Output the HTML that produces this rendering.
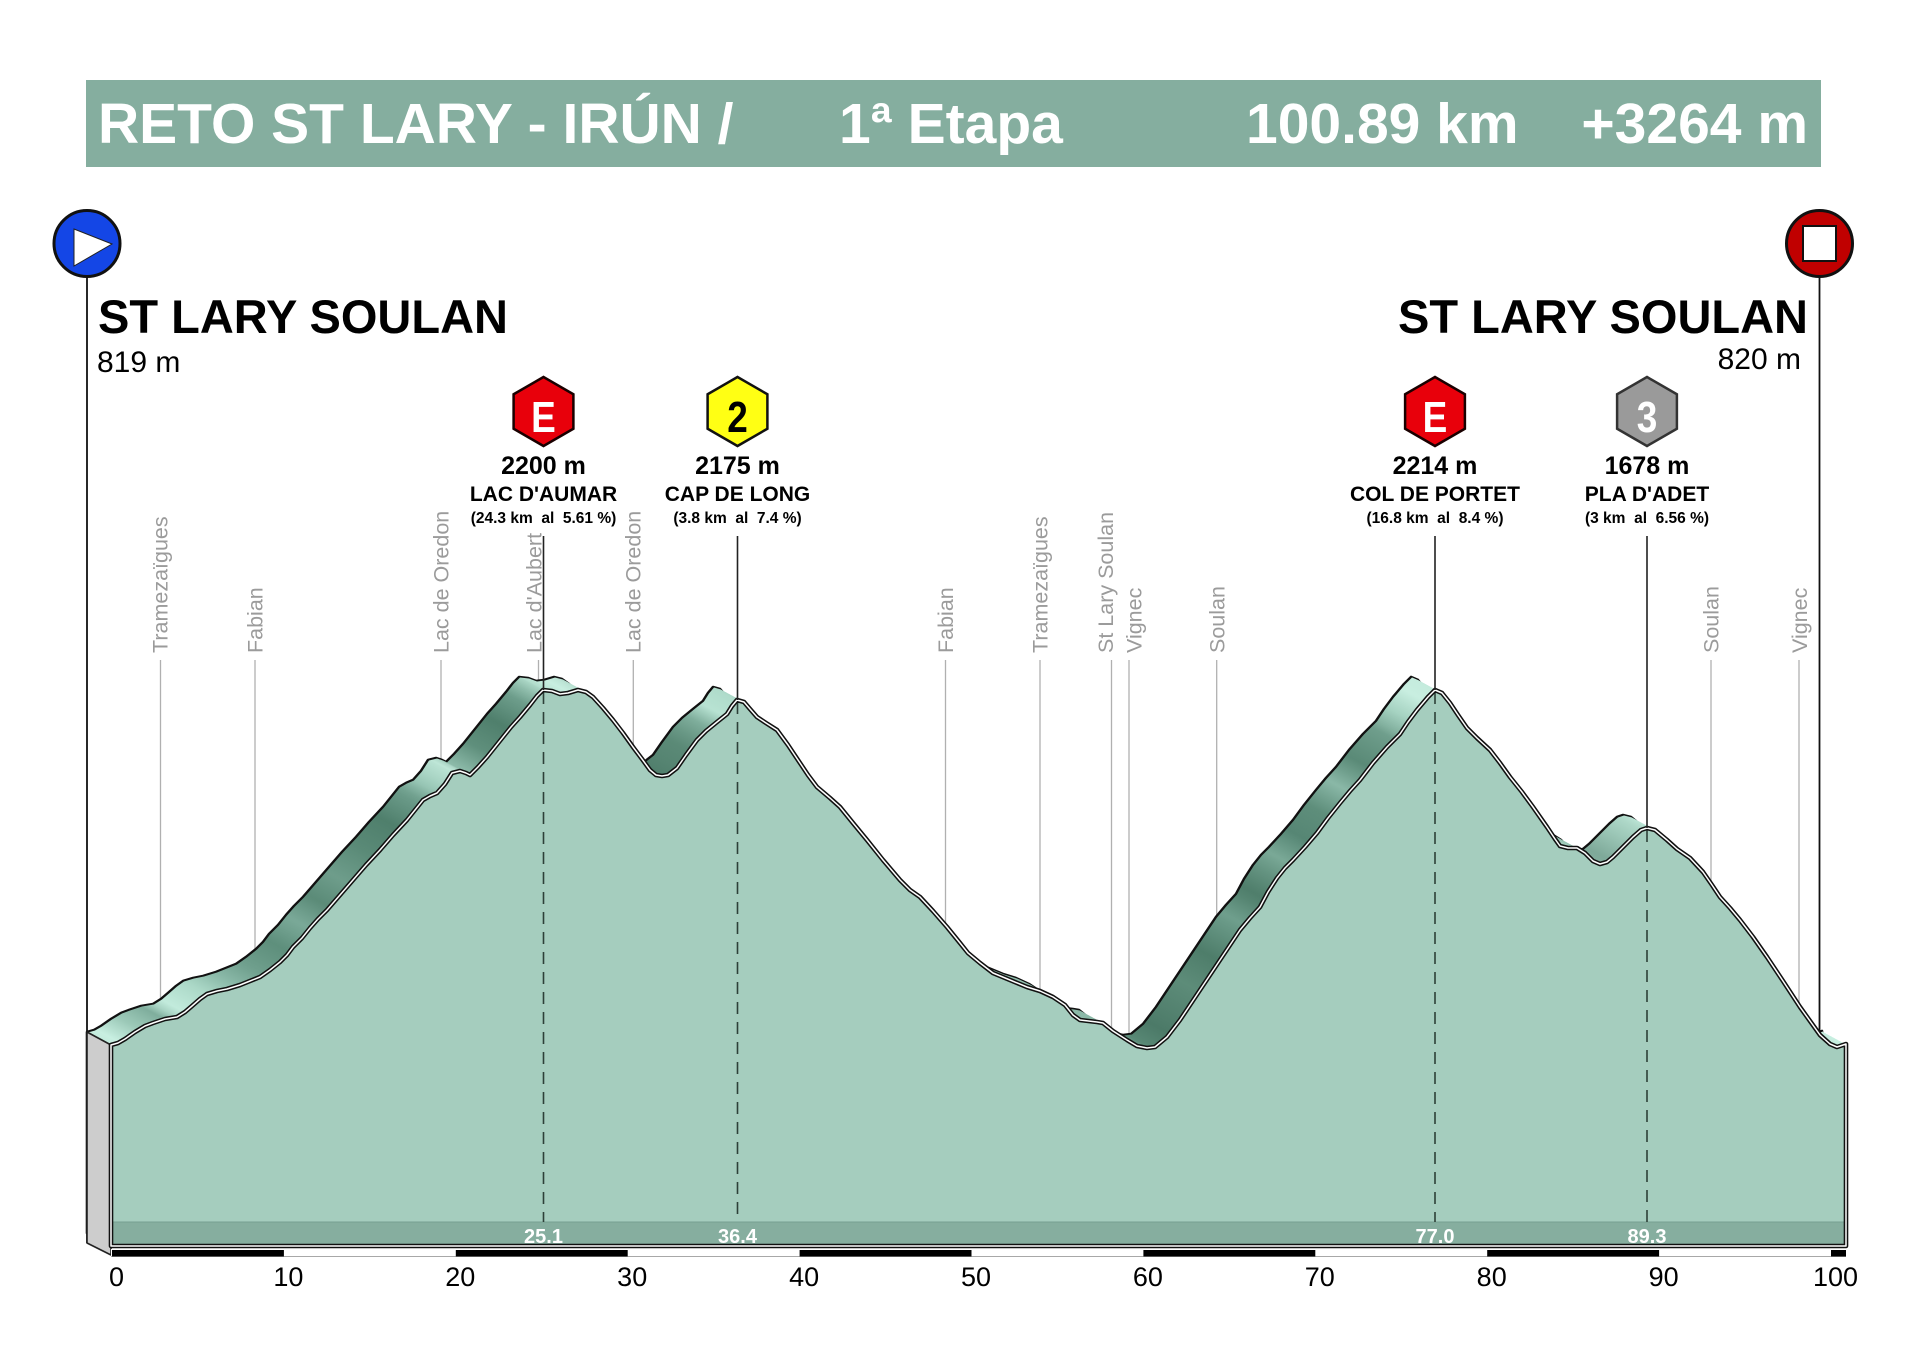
<!DOCTYPE html>
<html>
<head>
<meta charset="utf-8">
<style>
  html,body{margin:0;padding:0;background:#ffffff;}
  svg{display:block;}
  text{font-family:"Liberation Sans", Arial, sans-serif;}
  .pre{white-space:pre;}
</style>
</head>
<body>
<svg width="1920" height="1357" viewBox="0 0 1920 1357" xmlns="http://www.w3.org/2000/svg">
  <defs>
    <path id="prof" d="M111,1045 L118,1043 L125,1039 L135,1032 L145,1026 L153,1023 L165,1019 L177,1017 L185,1012 L192,1006 L200,999 L207,994 L217,991 L227,989 L240,985 L250,981 L260,977 L270,970 L280,962 L287,955 L293,947 L302,938 L310,928 L318,919 L327,910 L340,895 L353,880 L366,865 L380,850 L393,835 L407,820 L415,810 L423,800 L430,796 L437,793 L445,784 L452,773 L460,771 L466,773 L470,775 L478,767 L487,757 L495,747 L503,737 L511,727 L520,717 L530,705 L537,696 L543,690 L552,691 L560,694 L568,693 L578,690 L586,692 L593,697 L603,708 L613,720 L623,733 L633,747 L642,759 L650,770 L656,775 L662,776 L668,775 L677,768 L686,755 L697,740 L706,731 L717,722 L727,714 L732,706 L737,700 L744,702 L750,709 L757,717 L766,723 L777,730 L788,745 L800,763 L808,775 L817,787 L830,798 L840,807 L853,823 L867,840 L883,860 L900,880 L910,890 L920,897 L933,911 L947,927 L960,943 L968,953 L980,963 L993,973 L1010,980 L1027,987 L1040,991 L1053,997 L1065,1005 L1073,1015 L1080,1020 L1097,1022 L1103,1023 L1113,1031 L1127,1040 L1137,1046 L1147,1048 L1155,1047 L1167,1037 L1180,1020 L1190,1005 L1200,990 L1210,975 L1220,960 L1230,945 L1240,930 L1250,918 L1260,907 L1268,892 L1277,878 L1285,868 L1293,860 L1305,847 L1317,833 L1328,818 L1340,803 L1350,791 L1360,780 L1373,763 L1387,747 L1400,734 L1408,722 L1417,710 L1428,697 L1435,690 L1442,693 L1450,703 L1458,715 L1467,728 L1477,738 L1490,750 L1500,763 L1510,777 L1522,792 L1533,807 L1547,827 L1555,839 L1560,846 L1568,848 L1577,848 L1585,853 L1593,861 L1600,864 L1607,862 L1613,857 L1623,847 L1633,837 L1641,830 L1647,828 L1655,830 L1667,840 L1677,849 L1690,858 L1703,872 L1712,885 L1720,897 L1730,908 L1740,920 L1753,937 L1767,957 L1783,981 L1800,1007 L1810,1021 L1820,1035 L1830,1044 L1837,1047 L1846,1044 L1846,1246 L111,1246 Z"/>
    <linearGradient id="rib" gradientUnits="userSpaceOnUse" x1="0" y1="0" x2="1920" y2="0">
      <stop offset="0.0448" stop-color="#b5e0d0"/>
      <stop offset="0.0625" stop-color="#c8efe1"/>
      <stop offset="0.0729" stop-color="#9cc9b8"/>
      <stop offset="0.0859" stop-color="#7fae9d"/>
      <stop offset="0.0964" stop-color="#c2ebdc"/>
      <stop offset="0.1094" stop-color="#a9d6c5"/>
      <stop offset="0.1250" stop-color="#88b7a6"/>
      <stop offset="0.1380" stop-color="#6f9f8d"/>
      <stop offset="0.1510" stop-color="#5e8f7c"/>
      <stop offset="0.1615" stop-color="#7aa998"/>
      <stop offset="0.1719" stop-color="#5b8b78"/>
      <stop offset="0.1823" stop-color="#6e9d8b"/>
      <stop offset="0.1953" stop-color="#5a8a77"/>
      <stop offset="0.2083" stop-color="#4f7f6c"/>
      <stop offset="0.2188" stop-color="#6a9a88"/>
      <stop offset="0.2292" stop-color="#9ccab9"/>
      <stop offset="0.2370" stop-color="#bfe7d8"/>
      <stop offset="0.2448" stop-color="#8fbdac"/>
      <stop offset="0.2552" stop-color="#5f8f7c"/>
      <stop offset="0.2656" stop-color="#4f7f6c"/>
      <stop offset="0.2760" stop-color="#6d9d8b"/>
      <stop offset="0.2839" stop-color="#b0dccb"/>
      <stop offset="0.2969" stop-color="#c8eee0"/>
      <stop offset="0.3125" stop-color="#9fcbba"/>
      <stop offset="0.3333" stop-color="#6a9a88"/>
      <stop offset="0.3438" stop-color="#4e7c6a"/>
      <stop offset="0.3594" stop-color="#5b8a77"/>
      <stop offset="0.3698" stop-color="#7fae9c"/>
      <stop offset="0.3776" stop-color="#b8e3d3"/>
      <stop offset="0.3880" stop-color="#a9d6c5"/>
      <stop offset="0.5781" stop-color="#8bb8a7"/>
      <stop offset="0.5833" stop-color="#c6eee0"/>
      <stop offset="0.5911" stop-color="#8fbdac"/>
      <stop offset="0.5990" stop-color="#5a8a77"/>
      <stop offset="0.6094" stop-color="#4c7a68"/>
      <stop offset="0.6250" stop-color="#5d8c79"/>
      <stop offset="0.6354" stop-color="#4e7d6a"/>
      <stop offset="0.6484" stop-color="#6f9f8d"/>
      <stop offset="0.6589" stop-color="#4f7e6b"/>
      <stop offset="0.6719" stop-color="#7aa997"/>
      <stop offset="0.6823" stop-color="#568674"/>
      <stop offset="0.6927" stop-color="#5e8e7b"/>
      <stop offset="0.7031" stop-color="#8ab8a7"/>
      <stop offset="0.7135" stop-color="#5a8a77"/>
      <stop offset="0.7266" stop-color="#6f9e8c"/>
      <stop offset="0.7344" stop-color="#a5d2c1"/>
      <stop offset="0.7422" stop-color="#c8eee0"/>
      <stop offset="0.8073" stop-color="#9fcbba"/>
      <stop offset="0.8125" stop-color="#c5ecde"/>
      <stop offset="0.8229" stop-color="#8dbaa9"/>
      <stop offset="0.8385" stop-color="#7ea999"/>
      <stop offset="0.8490" stop-color="#9dc8b8"/>
      <stop offset="0.8594" stop-color="#b9e2d3"/>
      <stop offset="0.9375" stop-color="#aad7c6"/>
      <stop offset="0.9615" stop-color="#c8efe1"/>
    </linearGradient>
  </defs>

  <!-- Banner -->
  <rect x="86" y="80" width="1735" height="87" fill="#85ae9f"/>
  <g fill="#ffffff" font-weight="bold" font-size="57">
    <text x="98" y="143">RETO ST LARY - IRÚN /</text>
    <text x="839" y="143">1ª Etapa</text>
    <text x="1246" y="143">100.89 km</text>
    <text x="1808" y="143" text-anchor="end">+3264 m</text>
  </g>

  <!-- Start / finish names -->
  <text x="98" y="333" font-size="47" font-weight="bold" fill="#000">ST LARY SOULAN</text>
  <text x="97" y="372" font-size="30" fill="#000">819 m</text>
  <text x="1808" y="333" font-size="47" font-weight="bold" fill="#000" text-anchor="end">ST LARY SOULAN</text>
  <text x="1801" y="369" font-size="30" fill="#000" text-anchor="end">820 m</text>

  <!-- start / finish vertical lines -->
  <line x1="87" y1="276" x2="87" y2="1243" stroke="#111" stroke-width="1.8"/>
  <line x1="1819.5" y1="276" x2="1819.5" y2="1100" stroke="#111" stroke-width="1.8"/>

  <!-- Town tick lines -->
  <g stroke="#b0b0b0" stroke-width="1.3">
    <line x1="160.5" y1="660" x2="160.5" y2="1150"/>
    <line x1="255" y1="660" x2="255" y2="1150"/>
    <line x1="441" y1="660" x2="441" y2="1150"/>
    <line x1="538.5" y1="660" x2="538.5" y2="1150"/>
    <line x1="633.3" y1="660" x2="633.3" y2="1150"/>
    <line x1="945.5" y1="660" x2="945.5" y2="1150"/>
    <line x1="1040" y1="660" x2="1040" y2="1150"/>
    <line x1="1111.5" y1="660" x2="1111.5" y2="1150"/>
    <line x1="1129" y1="660" x2="1129" y2="1150"/>
    <line x1="1216.7" y1="660" x2="1216.7" y2="1150"/>
    <line x1="1711" y1="660" x2="1711" y2="1150"/>
    <line x1="1799" y1="660" x2="1799" y2="1150"/>
  </g>
  <g font-size="21.5" fill="#9b9b9b">
    <text transform="translate(167.5,653) rotate(-90)">Tramezaïgues</text>
    <text transform="translate(262.5,653) rotate(-90)">Fabian</text>
    <text transform="translate(448.5,653) rotate(-90)">Lac de Oredon</text>
    <text transform="translate(541.5,653) rotate(-90)">Lac d'Aubert</text>
    <text transform="translate(640.5,653) rotate(-90)">Lac de Oredon</text>
    <text transform="translate(953,653) rotate(-90)">Fabian</text>
    <text transform="translate(1047.5,653) rotate(-90)">Tramezaïgues</text>
    <text transform="translate(1113,653) rotate(-90)">St Lary Soulan</text>
    <text transform="translate(1141.5,653) rotate(-90)">Vignec</text>
    <text transform="translate(1224.5,653) rotate(-90)">Soulan</text>
    <text transform="translate(1718.5,653) rotate(-90)">Soulan</text>
    <text transform="translate(1807,653) rotate(-90)">Vignec</text>
  </g>

  <!-- Ribbon (extruded top surface) -->
  <use href="#prof" transform="translate(-24,-13)" fill="url(#rib)" stroke="#111" stroke-width="2.6" stroke-linejoin="round"/>
  <g fill="url(#rib)">
    <use href="#prof" transform="translate(-23,-12.46)"/>
    <use href="#prof" transform="translate(-22,-11.92)"/>
    <use href="#prof" transform="translate(-21,-11.38)"/>
    <use href="#prof" transform="translate(-20,-10.83)"/>
    <use href="#prof" transform="translate(-19,-10.29)"/>
    <use href="#prof" transform="translate(-18,-9.75)"/>
    <use href="#prof" transform="translate(-17,-9.21)"/>
    <use href="#prof" transform="translate(-16,-8.67)"/>
    <use href="#prof" transform="translate(-15,-8.13)"/>
    <use href="#prof" transform="translate(-14,-7.58)"/>
    <use href="#prof" transform="translate(-13,-7.04)"/>
    <use href="#prof" transform="translate(-12,-6.5)"/>
    <use href="#prof" transform="translate(-11,-5.96)"/>
    <use href="#prof" transform="translate(-10,-5.42)"/>
    <use href="#prof" transform="translate(-9,-4.88)"/>
    <use href="#prof" transform="translate(-8,-4.33)"/>
    <use href="#prof" transform="translate(-7,-3.79)"/>
    <use href="#prof" transform="translate(-6,-3.25)"/>
    <use href="#prof" transform="translate(-5,-2.71)"/>
    <use href="#prof" transform="translate(-4,-2.17)"/>
    <use href="#prof" transform="translate(-3,-1.63)"/>
    <use href="#prof" transform="translate(-2,-1.08)"/>
    <use href="#prof" transform="translate(-1,-0.54)"/>
  </g>

  <!-- grey left side -->
  <polygon points="87,1032 111,1045 111,1255 87,1243" fill="#cdcdcd" stroke="#222" stroke-width="1.6" stroke-linejoin="round"/>

  <!-- Front face -->
  <use href="#prof" fill="#a5cdbe"/>
  <rect x="111" y="1222" width="1735" height="24" fill="#86ae9f"/>
  <line x1="111" y1="1222" x2="1846" y2="1222" stroke="#76a091" stroke-width="1"/>

  <!-- dashed climb lines -->
  <g stroke="#2d4038" stroke-width="1.6" stroke-dasharray="12,8">
    <line x1="543.5" y1="692" x2="543.5" y2="1222"/>
    <line x1="737.5" y1="702" x2="737.5" y2="1222"/>
    <line x1="1435" y1="692" x2="1435" y2="1222"/>
    <line x1="1647" y1="830" x2="1647" y2="1222"/>
  </g>

  <!-- front outline double line -->
  <use href="#prof" fill="none" stroke="#111" stroke-width="4.6" stroke-linejoin="round"/>
  <use href="#prof" fill="none" stroke="#ffffff" stroke-width="1.5" stroke-linejoin="round"/>

  <!-- band labels -->
  <g fill="#ffffff" font-weight="bold" font-size="20" text-anchor="middle">
    <text x="543.5" y="1243">25.1</text>
    <text x="737.5" y="1243">36.4</text>
    <text x="1435" y="1243">77.0</text>
    <text x="1647" y="1243">89.3</text>
  </g>

  <!-- Axis bar -->
  <rect x="111" y="1249" width="1735" height="7.5" fill="#ffffff"/>
  <line x1="111" y1="1256.5" x2="1846" y2="1256.5" stroke="#a8a8a8" stroke-width="1"/>
  <g fill="#000">
    <rect x="112" y="1250" width="171.9" height="6.5"/>
    <rect x="455.8" y="1250" width="171.9" height="6.5"/>
    <rect x="799.6" y="1250" width="171.9" height="6.5"/>
    <rect x="1143.4" y="1250" width="171.9" height="6.5"/>
    <rect x="1487.2" y="1250" width="171.9" height="6.5"/>
    <rect x="1831" y="1250" width="15" height="6.5"/>
  </g>
  <g font-size="27" fill="#000" text-anchor="middle">
    <text x="116.5" y="1286">0</text>
    <text x="288.4" y="1286">10</text>
    <text x="460.3" y="1286">20</text>
    <text x="632.2" y="1286">30</text>
    <text x="804.1" y="1286">40</text>
    <text x="976" y="1286">50</text>
    <text x="1147.9" y="1286">60</text>
    <text x="1319.8" y="1286">70</text>
    <text x="1491.7" y="1286">80</text>
    <text x="1663.6" y="1286">90</text>
    <text x="1835.5" y="1286">100</text>
  </g>

  <!-- Climb vertical solid lines -->
  <g stroke="#222" stroke-width="1.6">
    <line x1="543.5" y1="536" x2="543.5" y2="690"/>
    <line x1="737.5" y1="536" x2="737.5" y2="700"/>
    <line x1="1435" y1="536" x2="1435" y2="690"/>
    <line x1="1647" y1="536" x2="1647" y2="828"/>
  </g>

  <!-- Climb icons -->
  <g transform="translate(543.5,411.5)">
    <polygon points="0,-34.5 29.9,-17.25 29.9,17.25 0,34.5 -29.9,17.25 -29.9,-17.25" fill="#e8000b" stroke="#1a0000" stroke-width="2.5"/>
    <text transform="scale(0.84,1)" x="0" y="20.5" font-size="44" font-weight="bold" fill="#fff" text-anchor="middle">E</text>
  </g>
  <g transform="translate(737.5,411.5)">
    <polygon points="0,-34.5 29.9,-17.25 29.9,17.25 0,34.5 -29.9,17.25 -29.9,-17.25" fill="#ffff14" stroke="#111" stroke-width="2.5"/>
    <text transform="scale(0.84,1)" x="0" y="20.5" font-size="44" font-weight="bold" fill="#000" text-anchor="middle">2</text>
  </g>
  <g transform="translate(1435,411.5)">
    <polygon points="0,-34.5 29.9,-17.25 29.9,17.25 0,34.5 -29.9,17.25 -29.9,-17.25" fill="#e8000b" stroke="#1a0000" stroke-width="2.5"/>
    <text transform="scale(0.84,1)" x="0" y="20.5" font-size="44" font-weight="bold" fill="#fff" text-anchor="middle">E</text>
  </g>
  <g transform="translate(1647,411.5)">
    <polygon points="0,-34.5 29.9,-17.25 29.9,17.25 0,34.5 -29.9,17.25 -29.9,-17.25" fill="#9a9a9a" stroke="#333" stroke-width="2.5"/>
    <text transform="scale(0.84,1)" x="0" y="20.5" font-size="44" font-weight="bold" fill="#fff" text-anchor="middle">3</text>
  </g>

  <!-- Climb labels -->
  <g fill="#000" font-weight="bold" text-anchor="middle">
    <text x="543.5" y="474" font-size="25">2200 m</text>
    <text x="543.5" y="501" font-size="21">LAC D'AUMAR</text>
    <text class="pre" x="543.5" y="523" font-size="15.5">(24.3 km  al  5.61 %)</text>

    <text x="737.5" y="474" font-size="25">2175 m</text>
    <text x="737.5" y="501" font-size="21">CAP DE LONG</text>
    <text class="pre" x="737.5" y="523" font-size="15.5">(3.8 km  al  7.4 %)</text>

    <text x="1435" y="474" font-size="25">2214 m</text>
    <text x="1435" y="501" font-size="21">COL DE PORTET</text>
    <text class="pre" x="1435" y="523" font-size="15.5">(16.8 km  al  8.4 %)</text>

    <text x="1647" y="474" font-size="25">1678 m</text>
    <text x="1647" y="501" font-size="21">PLA D'ADET</text>
    <text class="pre" x="1647" y="523" font-size="15.5">(3 km  al  6.56 %)</text>
  </g>

  <!-- Start icon -->
  <circle cx="87" cy="243.5" r="33" fill="#1446e6" stroke="#111" stroke-width="3"/>
  <polygon points="74,229 112,244 74,266" fill="#ffffff" stroke="#222" stroke-width="1"/>

  <!-- Finish icon -->
  <circle cx="1819.5" cy="243.5" r="33" fill="#c00000" stroke="#111" stroke-width="3"/>
  <rect x="1803" y="226" width="33" height="35" fill="#ffffff" stroke="#111" stroke-width="2"/>
</svg>
</body>
</html>
